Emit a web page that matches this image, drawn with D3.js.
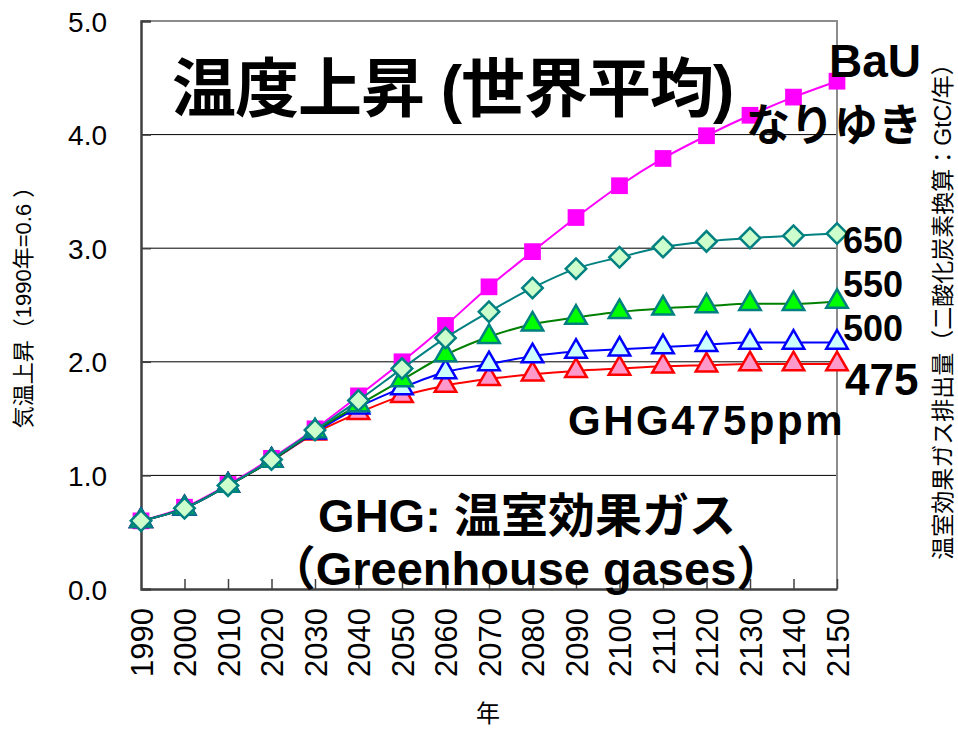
<!DOCTYPE html>
<html>
<head>
<meta charset="utf-8">
<script src="https://cdn.jsdelivr.net/npm/d3@7"></script>
<style>
  body { margin: 0; background: #fff; }
  text { font-family: "Liberation Sans", Arial, "Noto Sans CJK JP", sans-serif; }
</style>
</head>
<body>
<div id="chart"></div>
<script>
// data
const years = ["1990", "2000", "2010", "2020", "2030", "2040", "2050", "2060", "2070",
               "2080", "2090", "2100", "2110", "2120", "2130", "2140", "2150"];
const yTicks = [0, 1, 2, 3, 4, 5];
const bau  = [0.60, 0.72, 0.92, 1.15, 1.41, 1.70, 2.00, 2.32, 2.66, 2.97, 3.27, 3.55, 3.79, 3.99, 4.17, 4.33, 4.47];
const s650 = [0.60, 0.71, 0.91, 1.14, 1.40, 1.66, 1.94, 2.21, 2.44, 2.65, 2.82, 2.92, 3.01, 3.06, 3.09, 3.11, 3.13];
const s550 = [0.60, 0.71, 0.91, 1.13, 1.39, 1.62, 1.84, 2.06, 2.22, 2.33, 2.39, 2.44, 2.47, 2.49, 2.51, 2.51, 2.53];
const s500 = [0.60, 0.71, 0.91, 1.13, 1.38, 1.60, 1.77, 1.91, 1.98, 2.05, 2.09, 2.11, 2.13, 2.15, 2.17, 2.17, 2.17];
const s475 = [0.60, 0.71, 0.91, 1.13, 1.37, 1.55, 1.70, 1.79, 1.85, 1.89, 1.92, 1.94, 1.96, 1.97, 1.98, 1.98, 1.98];

const width = 958, height = 729;
const plotL = 141, plotR = 837, plotT = 21, plotB = 589;

const svg = d3.select("#chart").append("svg")
    .attr("width", width)
    .attr("height", height);

const x = d3.scalePoint().domain(years).range([plotL, plotR]);
const y = d3.scaleLinear().domain([0, 5]).range([plotB, plotT]);

// grid
svg.append("g").selectAll("line")
  .data(yTicks.filter(d => d > 0 && d < 5))
  .enter().append("line")
    .attr("x1", plotL).attr("x2", plotR)
    .attr("y1", d => y(d)).attr("y2", d => y(d))
    .attr("stroke", "#000").attr("stroke-width", 1);

// frame top / right
svg.append("path")
    .attr("d", `M${plotL},${y(5)}H${plotR}V${plotB}`)
    .attr("fill", "none").attr("stroke", "#8c8c8c").attr("stroke-width", 2);

// axes
const yAxis = svg.append("g")
    .attr("transform", `translate(${plotL},0)`)
    .call(d3.axisLeft(y).tickValues(yTicks).tickFormat(d3.format(".1f")).tickSize(-10).tickPadding(34));
const xAxis = svg.append("g")
    .attr("transform", `translate(0,${plotB})`)
    .call(d3.axisBottom(x).tickSize(-10).tickSizeOuter(0));

[yAxis, xAxis].forEach(g => {
  g.select(".domain").attr("stroke", "#404040").attr("stroke-width", 2.5);
  g.selectAll(".tick line").attr("stroke", "#404040").attr("stroke-width", 1.5);
  g.selectAll("text").attr("fill", "#000")
    .style("font-family", '"Liberation Sans", Arial, sans-serif');
});
yAxis.selectAll("text").style("font-size", "28px").attr("dy", "0.36em");
yAxis.selectAll(".tick").filter(d => d === 5 || d === 0).select("line").remove();
xAxis.selectAll("text")
    .style("font-size", "31px")
    .attr("text-anchor", "end")
    .attr("transform", "rotate(-90)")
    .attr("x", -19).attr("y", 0).attr("dy", "0.36em");
xAxis.selectAll(".tick").filter(d => d === "1990").select("line").remove();

// series
const series = [
  {name: "BaU", vals: bau,  line: "#ff00ff", shape: "square",   fill: "#ff00ff", stroke: "#ff00ff"},
  {name: "475", vals: s475, line: "#ff0000", shape: "triangle", fill: "#ff99cc", stroke: "#ff0000"},
  {name: "500", vals: s500, line: "#0000ff", shape: "triangle", fill: "#ccffff", stroke: "#0000ff"},
  {name: "550", vals: s550, line: "#008000", shape: "triangle", fill: "#00ff00", stroke: "#008080"},
  {name: "650", vals: s650, line: "#008080", shape: "diamond",  fill: "#ccffcc", stroke: "#008080"}
];

const line = d3.line()
    .x((d, i) => x(years[i]))
    .y(d => y(d))
    .curve(d3.curveMonotoneX);

const symSquare = d3.symbol().type(d3.symbolSquare).size(280);
const symDiamond = d3.symbol().type(d3.symbolSquare).size(210);
const symTriangle = d3.symbol().type(d3.symbolTriangle).size(200);

series.forEach(s => {
  const g = svg.append("g");
  g.append("path")
      .attr("d", line(s.vals))
      .attr("fill", "none")
      .attr("stroke", s.line)
      .attr("stroke-width", 2);
  g.selectAll(".pt")
    .data(s.vals)
    .enter().append("path")
      .attr("class", "pt")
      .attr("transform", (d, i) => {
        let t = "translate(" + x(years[i]) + "," + y(d) + ")";
        if (s.shape === "diamond") t += " rotate(45)";
        return t;
      })
      .attr("d", s.shape === "square" ? symSquare() : s.shape === "diamond" ? symDiamond() : symTriangle())
      .attr("fill", s.fill)
      .attr("stroke", s.shape === "square" ? "none" : s.stroke)
      .attr("stroke-width", 2.5);
});

// texts
const bold = (txt, tx, ty, size, anchor, spacing) => svg.append("text")
    .attr("x", tx).attr("y", ty)
    .attr("text-anchor", anchor || "start")
    .style("font-size", size + "px")
    .style("font-weight", "bold")
    .style("letter-spacing", (spacing || 0) + "px")
    .attr("fill", "#000")
    .text(txt);

bold("温度上昇 (世界平均)", 172, 111, 64, "start", -1);
bold("BaU", 921, 77, 46, "end");
bold("なりゆき", 922, 141, 44, "end");
bold("650", 843, 253, 36);
bold("550", 843, 297, 36);
bold("500", 843, 341, 36);
bold("475", 845, 395, 44);
bold("GHG475ppm", 845, 435, 42, "end", 2.5);
bold("GHG: 温室効果ガス", 527, 532, 47, "middle");
bold("（Greenhouse gases）", 526, 585, 47, "middle");

// axis titles
svg.append("text")
    .attr("transform", "translate(31,302) rotate(-90)")
    .attr("text-anchor", "middle")
    .style("font-size", "22px")
    .text("気温上昇（1990年=0.6  ）");

svg.append("text")
    .attr("transform", "translate(951,306) rotate(-90)")
    .attr("text-anchor", "middle")
    .style("font-size", "23px")
    .text("温室効果ガス排出量（二酸化炭素換算：GtC/年）");

svg.append("text")
    .attr("x", 488).attr("y", 722)
    .attr("text-anchor", "middle")
    .style("font-size", "24px")
    .text("年");
</script>
</body>
</html>
